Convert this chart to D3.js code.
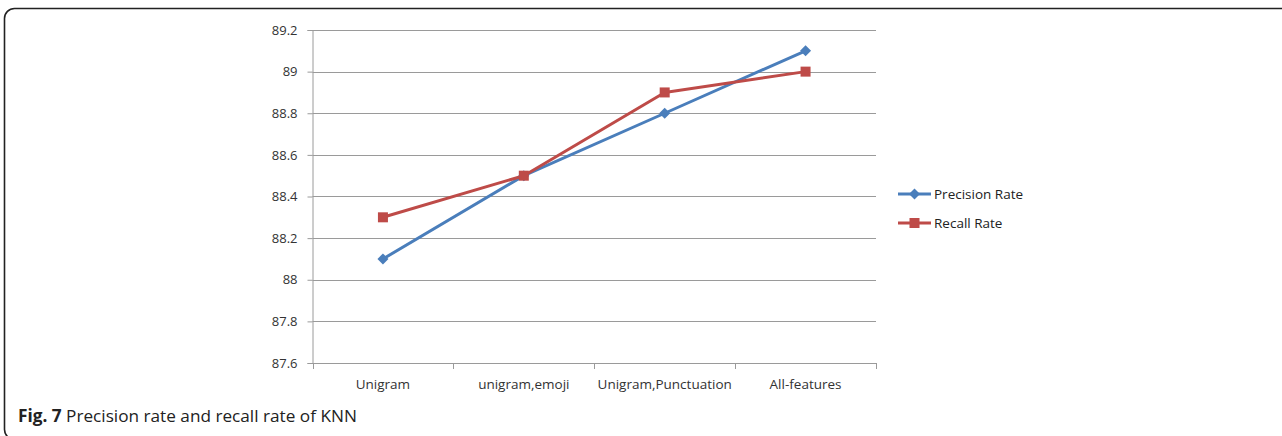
<!DOCTYPE html>
<html><head><meta charset="utf-8">
<script src="https://cdn.jsdelivr.net/npm/d3@7/dist/d3.min.js"></script>
<style>body{margin:0;background:#fff;overflow:hidden}</style>
</head><body>
<svg id="c" width="1282" height="436"></svg>
<script>
const categories = ["Unigram", "unigram,emoji", "Unigram,Punctuation", "All-features"];
const precision = [88.1, 88.5, 88.8, 89.1];
const recall = [88.3, 88.5, 88.9, 89.0];
const yTicks = [87.6, 87.8, 88, 88.2, 88.4, 88.6, 88.8, 89, 89.2];
const seriesNames = ["Precision Rate", "Recall Rate"];
const colors = ["#4a7ebb", "#be4b48"];

const svg = d3.select("#c");
svg.append("rect").attr("x", 4.5).attr("y", 8.5).attr("width", 1300).attr("height", 431)
  .attr("rx", 10).attr("fill", "none").attr("stroke", "#222").attr("stroke-width", 1.6);

const L = 312.5, R = 876, T = 30, B = 363;
const x = d3.scaleBand().domain(categories).range([L, R]);
const y = d3.scaleLinear().domain([87.6, 89.2]).range([B, T]);
const font = "'Open Sans', 'Noto Sans', sans-serif";

// gridlines
svg.append("g").selectAll("line").data(yTicks.slice(1)).join("line")
  .attr("x1", L).attr("x2", R).attr("y1", d => Math.round(y(d)) + 0.5).attr("y2", d => Math.round(y(d)) + 0.5)
  .attr("stroke", "#9a9a9a").attr("stroke-width", 1);

// y axis
const ya = svg.append("g").attr("transform", `translate(${L},0)`)
  .call(d3.axisLeft(y).tickValues(yTicks).tickSize(5).tickPadding(10).tickFormat(d => String(+d.toFixed(1))));
ya.select(".domain").attr("stroke", "#9a9a9a");
ya.selectAll(".tick line").attr("stroke", "#9a9a9a");
ya.selectAll("text").attr("font-family", font).attr("font-size", 13).attr("fill", "#333");

// x axis
const xa = svg.append("g").attr("transform", `translate(0,${B})`);
xa.append("line").attr("x1", L).attr("x2", R).attr("y1", 0.5).attr("y2", 0.5).attr("stroke", "#9a9a9a");
const bounds = categories.map(c => x(c)).concat([R]);
xa.selectAll(".tk").data(bounds).join("line").attr("class", "tk")
  .attr("x1", d => Math.round(d) + 0.5).attr("x2", d => Math.round(d) + 0.5).attr("y1", 0).attr("y2", 6)
  .attr("stroke", "#9a9a9a");
xa.selectAll("text").data(categories).join("text")
  .attr("x", d => x(d) + x.bandwidth() / 2).attr("y", 26).attr("text-anchor", "middle")
  .attr("font-family", font).attr("font-size", 13.5).attr("fill", "#333").text(d => d);

const cx = d => x(d) + x.bandwidth() / 2;
const line = d3.line().x((d, i) => cx(categories[i])).y(d => y(d));
const data = [precision, recall];
data.forEach((vals, s) => {
  svg.append("path").datum(vals).attr("d", line).attr("fill", "none")
    .attr("stroke", colors[s]).attr("stroke-width", 3).attr("stroke-linejoin", "round");
});
function marker(g, s, px, py) {
  if (s === 0) {
    g.append("path").attr("d", "M0,-5.5L5.5,0L0,5.5L-5.5,0Z").attr("transform", `translate(${px},${py})`).attr("fill", colors[0]);
  } else {
    g.append("rect").attr("x", px - 5).attr("y", py - 5).attr("width", 10).attr("height", 10).attr("fill", colors[1]);
  }
}
data.forEach((vals, s) => {
  const g = svg.append("g");
  vals.forEach((v, i) => marker(g, s, cx(categories[i]), y(v)));
});

// legend
seriesNames.forEach((n, s) => {
  const ly = 194 + s * 29;
  svg.append("line").attr("x1", 898).attr("x2", 931).attr("y1", ly).attr("y2", ly)
    .attr("stroke", colors[s]).attr("stroke-width", 3);
  marker(svg, s, 914.5, ly);
  svg.append("text").attr("x", 934).attr("y", ly + 4.5).attr("font-family", font)
    .attr("font-size", 13.5).attr("fill", "#222").text(n);
});

// caption
const cap = svg.append("text").attr("x", 18).attr("y", 422).attr("font-family", "'Open Sans', 'Noto Sans', sans-serif")
  .attr("font-size", 17.2).attr("fill", "#222");
cap.append("tspan").attr("font-weight", "bold").text("Fig. 7");
cap.append("tspan").text(" Precision rate and recall rate of KNN");
</script>
</body></html>
